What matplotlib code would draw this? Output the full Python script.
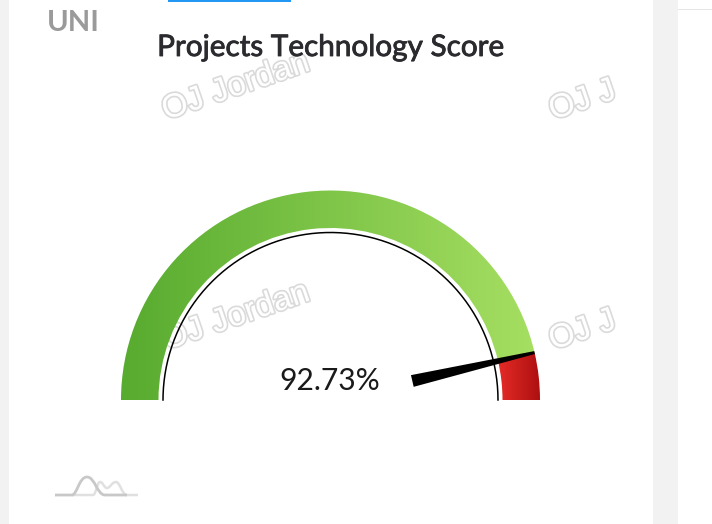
import numpy as np
import matplotlib
matplotlib.use('Agg')
import matplotlib.pyplot as plt
from matplotlib.patches import Wedge, Rectangle, PathPatch, Polygon
from matplotlib.path import Path
from matplotlib.colors import LinearSegmentedColormap
import matplotlib.patheffects as pe

title = 'Projects Technology Score'
card_label = 'UNI'
score = 92.73
zone_edges = [0, 92.73, 100]
zone_colors = [['#57AB2F', '#A6DF62'], ['#E52B27', '#AD1010']]
watermark_long = 'OJ Jordan'
watermark_short = 'OJ J'

# gauge geometry in pixels (y measured from the bottom of the image)
W, H = 712, 524
cx, cy = 330.5, 124
r_out, r_in, r_line = 209.5, 172, 167.5


def angle(v):
    return 180 * (1 - v / 100)


fig = plt.figure(figsize=(W / 100, H / 100), dpi=100, facecolor='white')
ax = fig.add_axes([0, 0, 1, 1])
ax.axis('off')

# page background
ax.add_patch(Rectangle((0, 0), 9, H, color='#F2F2F2', lw=0))
ax.add_patch(Rectangle((653, 0), 25, H, color='#F2F2F2', lw=0))
ax.add_patch(Rectangle((678, H - 10), 34, 1.5, color='#E6E6E6', lw=0))
ax.add_patch(Rectangle((168, H - 2), 123, 2, color='#2196F3', lw=0))

# watermarks sit under the gauge
wm_effect = [pe.withStroke(linewidth=2.4, foreground='#DADADA')]
for txt, x, y in [(watermark_long, 166, H - 120), (watermark_long, 166, H - 350),
                  (watermark_short, 553, H - 120), (watermark_short, 553, H - 350)]:
    ax.text(x, y, txt, fontsize=24, family='Liberation Sans', color='white', rotation=19,
            rotation_mode='anchor', ha='left', va='baseline', path_effects=wm_effect, zorder=1)

# coloured zones, each with a horizontal gradient clipped to its wedge
for i, cols in enumerate(zone_colors):
    t1, t2 = angle(zone_edges[i + 1]), angle(zone_edges[i])
    wedge = Wedge((cx, cy), r_out, t1, t2, width=r_out - r_in, transform=ax.transData, fc='none', ec='none')
    ax.add_patch(wedge)
    xs = [cx + r * np.cos(np.radians(a)) for r in (r_in, r_out) for a in (t1, t2)]
    if t2 == 180:
        xs.append(cx - r_out)
    if t1 <= 0:
        xs.append(cx + r_out)
    cmap = LinearSegmentedColormap.from_list('zone', cols)
    im = ax.imshow(np.linspace(0, 1, 256).reshape(1, -1), cmap=cmap, aspect='auto', zorder=2,
                   extent=[min(xs), max(xs), cy, cy + r_out], interpolation='bilinear')
    im.set_clip_path(wedge)

# thin black arc inside the band
arc_t = np.radians(np.linspace(0, 180, 300))
ax.plot(cx + r_line * np.cos(arc_t), cy + r_line * np.sin(arc_t), color='black', lw=1.1, zorder=3)

# needle, blunt at the tip
a = np.radians(angle(score))
u = np.array([np.cos(a), np.sin(a)])
n = np.array([-u[1], u[0]])
c = np.array([cx, cy])
needle = [c + 84 * u + 6 * n, c + 84 * u - 6 * n, c + r_out * u - 1.5 * n, c + r_out * u + 1.5 * n]
ax.add_patch(Polygon(needle, closed=True, fc='black', ec='none', zorder=4))

# texts
ax.text(330, H - 381, f'{score:.2f}%', fontsize=21.6, family='Lato', color='#1A1A1A',
        ha='center', va='center', zorder=5)
# a thin stroke gives the medium weight of the title
ax.text(331, H - 47, title, fontsize=21.4, family='Lato', color='#2B2B2F',
        ha='center', va='center', path_effects=[pe.withStroke(linewidth=0.6, foreground='#2B2B2F')])
ax.text(46.5, H - 23, card_label, fontsize=21, family='Lato', weight='bold', color='#9A9A9A',
        ha='left', va='center')

# small chart icon bottom left
C = Path.CURVE4
dark = Path([(55, H - 495), (72, H - 495),
             (77, H - 495), (79, H - 477), (87, H - 477),
             (95, H - 477), (97, H - 495), (105, H - 495),
             (127, H - 495)],
            [Path.MOVETO, Path.LINETO, C, C, C, C, C, C, Path.LINETO])
light = Path([(72, H - 495), (93, H - 495),
              (96, H - 495), (97, H - 482), (100, H - 482),
              (103, H - 482), (104, H - 488), (107, H - 488),
              (110, H - 488), (112, H - 482), (116, H - 482),
              (120, H - 482), (122, H - 495), (127, H - 495),
              (138, H - 495)],
             [Path.MOVETO, Path.LINETO, C, C, C, C, C, C, C, C, C, C, C, C, Path.LINETO])
ax.add_patch(PathPatch(light, fc='none', ec='#E0E0E0', lw=1.8, zorder=2))
ax.add_patch(PathPatch(dark, fc='none', ec='#C8C8C8', lw=2, zorder=2))

ax.set_xlim(0, W)
ax.set_ylim(0, H)
fig.savefig('out.png', dpi=100)
